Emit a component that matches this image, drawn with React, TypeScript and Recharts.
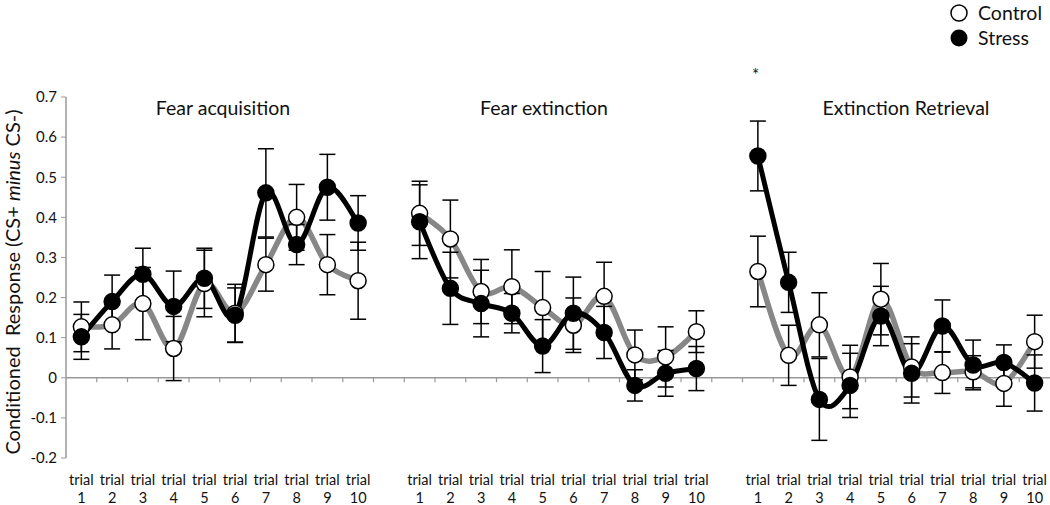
import { ComposedChart, Line, XAxis, YAxis, ErrorBar, ReferenceLine } from 'recharts';

const FONT = 'Lato, "Open Sans", sans-serif';

const panelTitles = ['Fear acquisition', 'Fear extinction', 'Extinction Retrieval'];
const trialNumbers = [1, 2, 3, 4, 5, 6, 7, 8, 9, 10];

const acqControl = [0.127, 0.132, 0.185, 0.073, 0.235, 0.161, 0.282, 0.4, 0.282, 0.242];
const acqControlErr = [0.062, 0.06, 0.09, 0.08, 0.083, 0.072, 0.066, 0.082, 0.075, 0.096];
const acqStress = [0.102, 0.19, 0.258, 0.178, 0.248, 0.156, 0.461, 0.332, 0.475, 0.386];
const acqStressErr = [0.056, 0.066, 0.065, 0.088, 0.075, 0.068, 0.11, 0.05, 0.082, 0.068];

const extControl = [0.41, 0.346, 0.215, 0.227, 0.175, 0.131, 0.203, 0.057, 0.052, 0.115];
const extControlErr = [0.08, 0.097, 0.08, 0.092, 0.09, 0.068, 0.085, 0.062, 0.075, 0.052];
const extStress = [0.389, 0.223, 0.185, 0.161, 0.079, 0.161, 0.113, -0.019, 0.011, 0.023];
const extStressErr = [0.092, 0.09, 0.083, 0.049, 0.066, 0.09, 0.065, 0.039, 0.057, 0.055];

const retControl = [0.265, 0.056, 0.132, 0.002, 0.196, 0.027, 0.013, 0.015, -0.014, 0.09];
const retControlErr = [0.088, 0.075, 0.08, 0.079, 0.089, 0.075, 0.052, 0.04, 0.057, 0.066];
const retStress = [0.553, 0.238, -0.054, -0.019, 0.154, 0.011, 0.129, 0.032, 0.038, -0.013];
const retStressErr = [0.087, 0.075, 0.102, 0.08, 0.074, 0.074, 0.065, 0.062, 0.044, 0.07];

const yTicks = [-0.2, -0.1, 0, 0.1, 0.2, 0.3, 0.4, 0.5, 0.6, 0.7];

const panels = [
  { c: acqControl, ce: acqControlErr, s: acqStress, se: acqStressErr },
  { c: extControl, ce: extControlErr, s: extStress, se: extStressErr },
  { c: retControl, ce: retControlErr, s: retStress, se: retStressErr },
];

// 10 trials per panel, one empty slot between panels so the lines break
const SLOTS = 11;
const data: any[] = [];
panels.forEach((p, pi) => {
  if (pi > 0) data.push({ slot: pi * SLOTS - 1, control: null, stress: null });
  trialNumbers.forEach((t, i) => {
    data.push({
      slot: pi * SLOTS + i,
      trial: t,
      control: p.c[i],
      controlErr: p.ce[i],
      stress: p.s[i],
      stressErr: p.se[i],
    });
  });
});
const xTicks = data.filter((d) => d.trial != null).map((d) => d.slot);
const boundaries = Array.from({ length: 3 * SLOTS - 2 }, (_, i) => i + 0.5);

// Excel-like smoothed line (Catmull-Rom as bezier)
const excelSmooth: any = (context: any) => {
  let pts: number[][] = [];
  return {
    areaStart() {},
    areaEnd() {},
    lineStart() {
      pts = [];
    },
    point(x: number, y: number) {
      pts.push([+x, +y]);
    },
    lineEnd() {
      if (!pts.length) return;
      context.moveTo(pts[0][0], pts[0][1]);
      for (let i = 0; i < pts.length - 1; i++) {
        const p0 = pts[i - 1] || pts[i];
        const p1 = pts[i];
        const p2 = pts[i + 1];
        const p3 = pts[i + 2] || p2;
        context.bezierCurveTo(
          p1[0] + (p2[0] - p0[0]) / 6,
          p1[1] + (p2[1] - p0[1]) / 6,
          p2[0] - (p3[0] - p1[0]) / 6,
          p2[1] - (p3[1] - p1[1]) / 6,
          p2[0],
          p2[1],
        );
      }
    },
  };
};

const TrialTick = ({ x, y, payload }: any) => {
  const n = (payload.value % SLOTS) + 1;
  return (
    <g transform={`translate(${x},${y})`}>
      <text textAnchor="middle" fontSize={14.5} fill="#111" fontFamily={FONT}>
        <tspan x={0} dy={19}>trial</tspan>
        <tspan x={0} dy={18}>{n}</tspan>
      </text>
    </g>
  );
};

const YLabel = () => (
  <text
    transform="translate(20,282) rotate(-90)"
    textAnchor="middle"
    fontSize={20}
    fill="#111"
    fontFamily={FONT}
    style={{ whiteSpace: 'pre' }}
  >
    {'Conditioned  Response (CS+ '}
    <tspan fontStyle="italic">minus</tspan>
    {' CS-)'}
  </text>
);

const titleStyle = (left: number): React.CSSProperties => ({
  position: 'absolute',
  top: 96,
  left,
  width: 240,
  textAlign: 'center',
  fontFamily: FONT,
  fontSize: 19.5,
  color: '#111',
});

export default function App() {
  return (
    <div style={{ position: 'absolute', left: 0, top: 0, width: 1050, height: 505, background: '#fff' }}>
      <ComposedChart width={1050} height={505} data={data} margin={{ top: 97, right: 0, bottom: 0, left: 0 }}>
        <XAxis
          type="number"
          dataKey="slot"
          domain={[-0.5, 3 * SLOTS - 1.5]}
          ticks={xTicks}
          interval={0}
          tick={<TrialTick />}
          axisLine={false}
          tickLine={false}
          height={47}
        />
        <YAxis
          domain={[-0.2, 0.7]}
          ticks={yTicks}
          interval={0}
          width={66}
          axisLine={{ stroke: '#999', strokeWidth: 1.5 }}
          tickLine={{ stroke: '#999' }}
          tickSize={5}
          tickMargin={4}
          tick={{ fontSize: 15, fill: '#111', fontFamily: FONT }}
          tickFormatter={(v: number) => (Math.abs(v) < 1e-9 ? '0' : v.toFixed(1))}
          label={{ content: () => <YLabel /> }}
        />
        <ReferenceLine y={0} stroke="#999" strokeWidth={1.5} />
        {boundaries.map((b) => (
          <ReferenceLine
            key={b}
            segment={[
              { x: b, y: 0 },
              { x: b, y: -0.011 },
            ]}
            stroke="#999"
            strokeWidth={1.2}
          />
        ))}
        <Line
          dataKey="control"
          type={excelSmooth}
          stroke="#878787"
          strokeWidth={5.5}
          dot={{ r: 8, fill: '#fff', stroke: '#000', strokeWidth: 1.5 }}
          isAnimationActive={false}
        >
          <ErrorBar dataKey="controlErr" direction="y" width={8} stroke="#000" strokeWidth={1.5} />
        </Line>
        <Line
          dataKey="stress"
          type={excelSmooth}
          stroke="#000"
          strokeWidth={5}
          dot={{ r: 8, fill: '#000', stroke: '#000', strokeWidth: 1.5 }}
          isAnimationActive={false}
        >
          <ErrorBar dataKey="stressErr" direction="y" width={8} stroke="#000" strokeWidth={1.5} />
        </Line>
      </ComposedChart>

      <div style={titleStyle(103)}>{panelTitles[0]}</div>
      <div style={titleStyle(424)}>{panelTitles[1]}</div>
      <div style={titleStyle(786)}>{panelTitles[2]}</div>

      <div style={{ position: 'absolute', left: 752, top: 64, fontFamily: FONT, fontSize: 17, color: '#111' }}>*</div>

      <div style={{ position: 'absolute', left: 949, top: 0, fontFamily: FONT, fontSize: 19.5, color: '#111', lineHeight: '25px' }}>
        <div style={{ display: 'flex', alignItems: 'center' }}>
          <svg width={20} height={20} style={{ marginRight: 9 }}>
            <circle cx={10} cy={10} r={8} fill="#fff" stroke="#000" strokeWidth={1.5} />
          </svg>
          Control
        </div>
        <div style={{ display: 'flex', alignItems: 'center' }}>
          <svg width={20} height={20} style={{ marginRight: 9 }}>
            <circle cx={10} cy={10} r={8.5} fill="#000" />
          </svg>
          Stress
        </div>
      </div>
    </div>
  );
}
